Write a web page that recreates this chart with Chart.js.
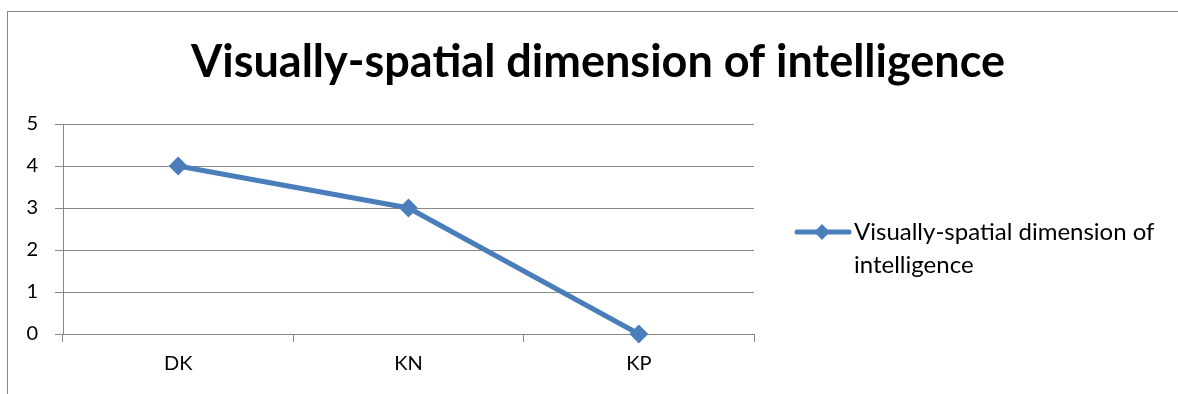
<!DOCTYPE html>
<html>
<head>
<meta charset="utf-8">
<script src="https://cdn.jsdelivr.net/npm/chart.js@4/dist/chart.umd.min.js"></script>
<style>
  html, body { margin: 0; padding: 0; background: #fff; }
  #wrap { width: 1178px; height: 394px; }
</style>
</head>
<body>
<div id="wrap"><canvas id="c" width="1178" height="394"></canvas></div>
<script>
const chartTitle = 'Visually-spatial dimension of intelligence';
const categories = ['DK', 'KN', 'KP'];
const seriesLabel = 'Visually-spatial dimension of intelligence';
const seriesValues = [4, 3, 0];
const yTicks = [0, 1, 2, 3, 4, 5];

const FONT = "Lato, 'Open Sans', sans-serif";
const LINE_BLUE = '#4A7EBB';
const GRID = '#878787';

// Outer frame, chart title and a wrapped legend drawn on the canvas
const decor = {
  id: 'decor',
  beforeDraw(chart) {
    const ctx = chart.ctx;
    ctx.save();
    ctx.fillStyle = '#fff';
    ctx.fillRect(0, 0, chart.width, chart.height);
    ctx.strokeStyle = GRID;
    ctx.lineWidth = 1;
    ctx.strokeRect(7.5, 11.5, 3000, 3000);
    ctx.restore();
  },
  afterDraw(chart) {
    const ctx = chart.ctx;
    ctx.save();
    // title
    ctx.fillStyle = '#000';
    ctx.font = 'bold 45px ' + FONT;
    ctx.textAlign = 'center';
    ctx.textBaseline = 'middle';
    ctx.fillText(chartTitle, 598, 62);

    // legend: line sample with diamond marker
    const ds = chart.data.datasets[0];
    const ly = 232;
    ctx.strokeStyle = ds.borderColor;
    ctx.lineWidth = ds.borderWidth;
    ctx.lineCap = 'round';
    ctx.beginPath();
    ctx.moveTo(797, ly);
    ctx.lineTo(849, ly);
    ctx.stroke();
    ctx.fillStyle = ds.borderColor;
    ctx.beginPath();
    ctx.moveTo(822, ly - 8); ctx.lineTo(830, ly); ctx.lineTo(822, ly + 8); ctx.lineTo(814, ly);
    ctx.closePath();
    ctx.fill();

    // legend text, word-wrapped
    ctx.fillStyle = '#000';
    ctx.font = '24px ' + FONT;
    ctx.textAlign = 'left';
    ctx.textBaseline = 'middle';
    const maxW = 318;
    const words = ds.label.split(' ');
    const lines = [];
    let cur = '';
    for (const w of words) {
      const t = cur ? cur + ' ' + w : w;
      if (ctx.measureText(t).width > maxW && cur) { lines.push(cur); cur = w; }
      else cur = t;
    }
    if (cur) lines.push(cur);
    lines.forEach((l, i) => ctx.fillText(l, 854, ly + i * 33));
    ctx.restore();
  }
};

new Chart(document.getElementById('c'), {
  type: 'line',
  data: {
    labels: categories,
    datasets: [{
      label: seriesLabel,
      data: seriesValues,
      borderColor: LINE_BLUE,
      backgroundColor: LINE_BLUE,
      borderWidth: 5,
      pointStyle: 'rectRot',
      pointRadius: 8,
      pointBorderWidth: 2,
      pointBackgroundColor: LINE_BLUE,
      pointBorderColor: LINE_BLUE,
      tension: 0,
      clip: false
    }]
  },
  options: {
    responsive: false,
    animation: false,
    devicePixelRatio: 1,
    layout: { padding: { top: 124, right: 424, bottom: 0, left: 0 } },
    plugins: {
      legend: { display: false },
      title: { display: false },
      tooltip: { enabled: false }
    },
    scales: {
      x: {
        type: 'category',
        offset: true,
        afterFit(scale) { scale.height = 60; },
        grid: {
          offset: true,
          drawOnChartArea: false,
          drawTicks: true,
          tickLength: 8,
          color: GRID,
          lineWidth: 1
        },
        border: { display: true, color: GRID, width: 1 },
        ticks: {
          color: '#000',
          padding: 10,
          font: { family: FONT, size: 20 },
          maxRotation: 0
        }
      },
      y: {
        min: 0,
        max: 5,
        afterFit(scale) { scale.width = 63; },
        afterBuildTicks(scale) { scale.ticks = yTicks.map(v => ({ value: v })); },
        grid: {
          drawTicks: true,
          tickLength: 8,
          color: GRID,
          lineWidth: 1
        },
        border: { display: true, color: GRID, width: 1 },
        ticks: {
          color: '#000',
          padding: 17,
          font: { family: FONT, size: 20 }
        }
      }
    }
  },
  plugins: [decor]
});
</script>
</body>
</html>
